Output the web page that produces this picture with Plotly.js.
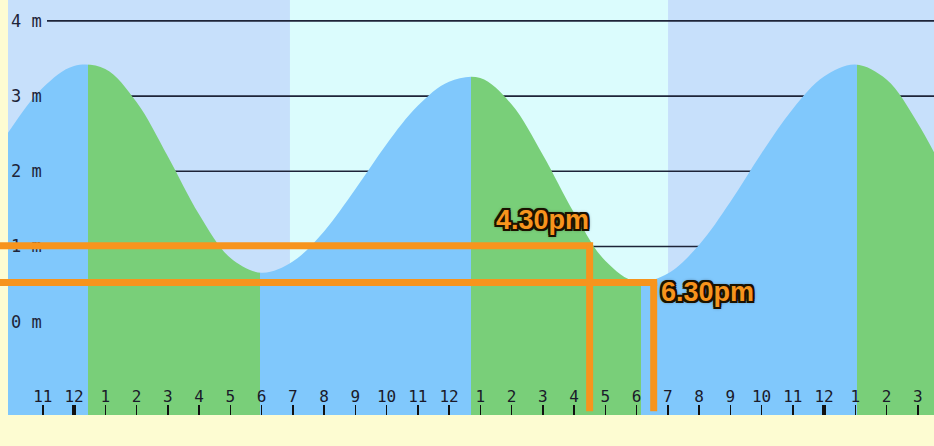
<!DOCTYPE html>
<html>
<head>
<meta charset="utf-8">
<script src="https://cdn.plot.ly/plotly-3.0.1.min.js"></script>
<style>
  html, body { margin: 0; padding: 0; background: #fdfcd2; }
  #chart { width: 934px; height: 446px; }
</style>
</head>
<body>
<div id="chart"></div>
<script>
// ---- data (hours counted from midnight of the first day) ----
const tideHours   = [-3, -2, -1, 0, 1, 2, 3, 4, 5, 6, 7, 8, 9, 10, 11, 12, 13, 14, 15, 16, 17, 18, 19, 20, 21, 22, 23, 24, 25, 26, 27, 28];
const tideHeights = [1.93, 2.58, 3.11, 3.40, 3.36, 2.92, 2.20, 1.43, 0.85, 0.65, 0.80, 1.20, 1.76, 2.36, 2.87, 3.19, 3.24, 2.89, 2.22, 1.45, 0.81, 0.53, 0.64, 1.02, 1.59, 2.24, 2.83, 3.26, 3.42, 3.22, 2.64, 1.86];
// high / low water turning points
const turnHours = [0.45, 5.95, 12.7, 18.14, 25.06];
// daylight (sunrise, sunset)
const dayHours = [6.91, 19.01];
// x axis ticks
const hourTicks  = [-2, -1, 0, 1, 2, 3, 4, 5, 6, 7, 8, 9, 10, 11, 12, 13, 14, 15, 16, 17, 18, 19, 20, 21, 22, 23, 24, 25, 26, 27];
const hourLabels = ['10', '11', '12', '1', '2', '3', '4', '5', '6', '7', '8', '9', '10', '11', '12', '1', '2', '3', '4', '5', '6', '7', '8', '9', '10', '11', '12', '1', '2', '3'];
const midnightHours = [0, 24];
// y axis ticks
const heightTicks  = [0, 1, 2, 3, 4];
const heightLabels = ['0 m', '1 m', '2 m', '3 m', '4 m'];
// marked crossings
const markHours   = [16.5, 18.55];
const markHeights = [1.01, 0.52];
const markLabels  = ['4.30pm', '6.30pm'];

// ---- styling ----
const W = 934, H = 446;
const M = { l: 8, r: 0, t: 0, b: 31 };
const plotW = W - M.l - M.r;
const xRange = [-2.112, 27.52];
const yRange = [-1.241, 4.278];
const NIGHT = '#c7e0fb', DAY = '#dbfcfd';
const RISE = '#80c8fc', FALL = '#79cf79';
const ORANGE = '#f7941d';
const GRID = '#1e2438';

const xFrac = t => (t - xRange[0]) / (xRange[1] - xRange[0]);

// horizontal fill gradient: blue while rising, green while falling
const g0 = tideHours[0], g1 = tideHours[tideHours.length - 1];
const cs = [[0, RISE]];
let rising = true;
turnHours.forEach(t => {
  const f = (t - g0) / (g1 - g0);
  cs.push([f, rising ? RISE : FALL]);
  rising = !rising;
  cs.push([f, rising ? RISE : FALL]);
});
cs.push([1, rising ? RISE : FALL]);

const traces = [
  { // baseline at the bottom of the plot
    x: [g0, g1], y: [yRange[0] - 0.2, yRange[0] - 0.2],
    mode: 'lines', line: { width: 0 }, hoverinfo: 'skip', showlegend: false
  },
  { // tide curve
    x: tideHours, y: tideHeights,
    mode: 'lines', line: { width: 0, shape: 'spline', smoothing: 1 },
    fill: 'tonexty', fillcolor: RISE,
    fillgradient: { type: 'horizontal', colorscale: cs, start: g0, stop: g1 },
    hoverinfo: 'skip', showlegend: false
  },
  { // carrier for the bold midnight ticks
    x: midnightHours, y: [yRange[0] - 1, yRange[0] - 1], xaxis: 'x2',
    mode: 'lines', line: { width: 0 }, hoverinfo: 'skip', showlegend: false
  }
];

const shapes = [];
// daylight band
shapes.push({ type: 'rect', xref: 'x', yref: 'paper', x0: dayHours[0], x1: dayHours[1], y0: 0, y1: 1,
  fillcolor: DAY, line: { width: 0 }, layer: 'below' });
// height grid lines (start right of the labels)
heightTicks.forEach(h => {
  shapes.push({ type: 'line', xref: 'paper', yref: 'y', x0: 39 / plotW, x1: 1, y0: h, y1: h,
    line: { color: GRID, width: 1.6 }, layer: 'below' });
});
// orange crossing markers
markHours.forEach((t, i) => {
  const h = markHeights[i];
  shapes.push({ type: 'line', xref: 'paper', yref: 'y', x0: -M.l / plotW, x1: xFrac(t) + 3.5 / plotW, y0: h, y1: h,
    line: { color: ORANGE, width: 7 }, layer: 'above' });
  shapes.push({ type: 'line', xref: 'x', yref: 'y', x0: t, x1: t, y0: h, y1: yRange[0] + 0.05,
    line: { color: ORANGE, width: 7 }, layer: 'above' });
});

const OL = '#1a1200';
const labelFont = {
  family: 'Liberation Sans, Arial, sans-serif', size: 27, color: ORANGE, weight: 'bold',
  shadow: `-2px -2px 0 ${OL}, 2px -2px 0 ${OL}, -2px 2px 0 ${OL}, 2px 2px 0 ${OL}, 0 -2px 0 ${OL}, 0 2px 0 ${OL}, -2px 0 0 ${OL}, 2px 0 0 ${OL}, 0 0 4px #000`
};
const annotations = markHours.map((t, i) => ({
  x: t, y: markHeights[i], xref: 'x', yref: 'y', text: markLabels[i], showarrow: false,
  xanchor: i === 0 ? 'right' : 'left', yanchor: i === 0 ? 'bottom' : 'top',
  xshift: i === 0 ? 1 : 5, yshift: i === 0 ? 9 : 8,
  font: labelFont
}));

const layout = {
  width: W, height: H, margin: M,
  paper_bgcolor: '#fdfcd2', plot_bgcolor: NIGHT,
  showlegend: false,
  xaxis: {
    range: xRange, tickmode: 'array', tickvals: hourTicks, ticktext: hourLabels,
    ticks: 'inside', ticklen: 10, tickwidth: 1.5, tickcolor: '#111',
    ticklabelposition: 'inside', ticklabeloverflow: 'allow',
    tickfont: { family: 'DejaVu Sans Mono, monospace', size: 16, color: '#1a1a2a' },
    showgrid: false, zeroline: false, showline: false, fixedrange: true
  },
  xaxis2: {
    overlaying: 'x', anchor: 'y', side: 'bottom', range: xRange,
    tickmode: 'array', tickvals: midnightHours, ticks: 'inside', ticklen: 10, tickwidth: 4, tickcolor: '#111',
    showticklabels: false, showgrid: false, zeroline: false, showline: false, fixedrange: true
  },
  yaxis: {
    range: yRange, tickmode: 'array', tickvals: heightTicks, ticktext: heightLabels,
    ticks: '', ticklabelposition: 'inside',
    tickfont: { family: 'DejaVu Sans Mono, monospace', size: 17, color: '#1e2438' },
    showgrid: false, zeroline: false, showline: false, fixedrange: true
  },
  shapes: shapes,
  annotations: annotations
};

Plotly.newPlot('chart', traces, layout, { displayModeBar: false, staticPlot: true });
</script>
</body>
</html>
